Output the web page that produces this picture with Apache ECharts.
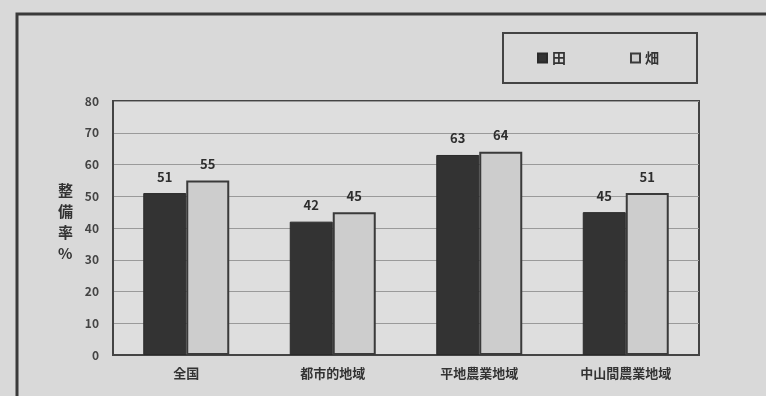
<!DOCTYPE html>
<html>
<head>
<meta charset="utf-8">
<script src="https://cdn.jsdelivr.net/npm/echarts@6/dist/echarts.min.js"></script>
<style>
  html, body { margin: 0; padding: 0; background: #d9d9d9; }
  #chart { width: 766px; height: 396px; }
</style>
</head>
<body>
<div id="chart"></div>
<script>
// 地域区分
const categories = ['全国', '都市的地域', '平地農業地域', '中山間農業地域'];
// 整備率 (%)
const paddyValues = [51, 42, 63, 45];   // 田
const uplandValues = [55, 45, 64, 51];  // 畑
const yTicks = { min: 0, max: 80, interval: 10 };
const seriesNames = ['田', '畑'];

const font = '"Noto Sans CJK JP", "Noto Sans", sans-serif';

const chart = echarts.init(document.getElementById('chart'), null, { renderer: 'canvas' });

const labelStyle = {
  show: true,
  position: 'top',
  distance: 10,
  color: '#2e2e2e',
  fontSize: 13,
  fontWeight: 'bold',
  fontFamily: font
};

chart.setOption({
  backgroundColor: '#d9d9d9',
  animation: false,
  graphic: [
    // outer frame (top and left edges)
    { type: 'polyline', shape: { points: [[17, 396], [17, 14], [766, 14]] },
      style: { stroke: '#3a3a3a', lineWidth: 3, fill: null }, silent: true },
    // plot area fill
    { type: 'rect', shape: { x: 113, y: 101, width: 586, height: 254 },
      style: { fill: '#dedede' }, z: -1, silent: true },
    // vertical y-axis title
    { type: 'text', left: 58, top: 180,
      style: { text: '整\n備\n率\n%', font: 'bold 15px ' + font, fill: '#333', lineHeight: 21 } }
  ],
  legend: {
    left: 503,
    top: 33,
    orient: 'horizontal',
    padding: [18, 38, 18, 34],
    itemGap: 64,
    itemWidth: 9,
    itemHeight: 9,
    icon: 'rect',
    borderColor: '#444',
    borderWidth: 2,
    textStyle: { color: '#333', fontSize: 14, fontWeight: 'bold', fontFamily: font },
    data: seriesNames
  },
  grid: { left: 113, right: 67, top: 101, bottom: 41, containLabel: false,
          show: true, borderColor: '#444', borderWidth: 2 },
  xAxis: {
    type: 'category',
    data: categories,
    axisLine: { show: true, lineStyle: { color: '#444', width: 2 } },
    axisTick: { show: false },
    axisLabel: { color: '#333', fontSize: 13, fontWeight: 'bold', fontFamily: font, margin: 12 },
    splitLine: { show: false }
  },
  yAxis: {
    type: 'value',
    min: yTicks.min,
    max: yTicks.max,
    interval: yTicks.interval,
    axisLine: { show: true, lineStyle: { color: '#444', width: 2 } },
    axisTick: { show: false },
    axisLabel: { color: '#444', fontSize: 12, fontWeight: 'bold', fontFamily: font, margin: 14 },
    splitLine: { show: true, lineStyle: { color: '#9a9a9a', width: 1 } }
  },
  series: [
    {
      name: seriesNames[0],
      type: 'bar',
      data: paddyValues,
      barWidth: 43,
      barGap: '0%',
      itemStyle: { color: '#333333', borderColor: '#2a2a2a', borderWidth: 1 },
      label: labelStyle
    },
    {
      name: seriesNames[1],
      type: 'bar',
      data: uplandValues,
      barWidth: 43,
      barGap: '0%',
      itemStyle: { color: '#cdcdcd', borderColor: '#3a3a3a', borderWidth: 2 },
      label: labelStyle
    }
  ]
});
</script>
</body>
</html>
